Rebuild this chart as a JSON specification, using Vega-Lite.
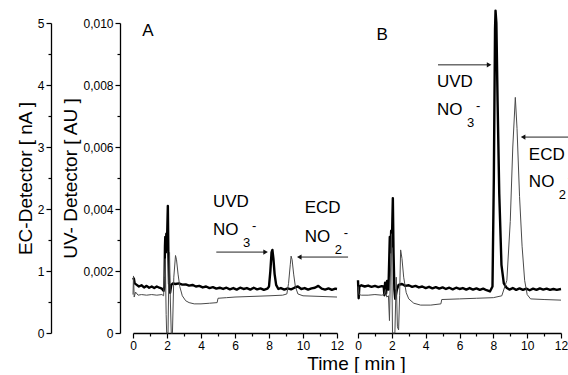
{
  "$schema": "https://vega.github.io/schema/vega-lite/v6.json",
  "padding": {"left": 16, "top": 9, "right": 0, "bottom": 0},
  "background": "white",
  "config": {
    "view": {"stroke": null},
    "font": "Liberation Sans",
    "axis": {
      "grid": false, "domainColor": "black", "domainWidth": 1.3, "tickColor": "black", "tickWidth": 1.2,
      "labelFont": "Liberation Sans", "labelFontSize": 12, "labelColor": "black", "labelPadding": 2, "labelOverlap": false,
      "titleFont": "Liberation Sans", "titleFontSize": 19, "titleFontWeight": "normal", "titleColor": "black"
    }
  },
  "datasets": {
    "uvA": [
      {"t":0,"v":0.00172},{"t":0.05,"v":0.00176},{"t":0.1,"v":0.0016},{"t":0.2,"v":0.00156},{"t":0.35,"v":0.0015},{"t":0.5,"v":0.00154},{"t":0.65,"v":0.00147},{"t":0.8,"v":0.00152},{"t":0.95,"v":0.00146},{"t":1.1,"v":0.0015},{"t":1.25,"v":0.00145},{"t":1.4,"v":0.0015},{"t":1.55,"v":0.00146},{"t":1.7,"v":0.00143},{"t":1.8,"v":0.00136},{"t":1.85,"v":0.0015},{"t":1.88,"v":0.0028},{"t":1.9,"v":0.0031},{"t":1.93,"v":0.0026},{"t":1.96,"v":0.0032},{"t":1.99,"v":0.0027},{"t":2.02,"v":0.0034},{"t":2.05,"v":0.0041},{"t":2.08,"v":0.0026},{"t":2.12,"v":0.0016},{"t":2.18,"v":0.0013},{"t":2.25,"v":0.00155},{"t":2.35,"v":0.0016},{"t":2.5,"v":0.00158},{"t":2.7,"v":0.0016},{"t":2.9,"v":0.00156},{"t":3.1,"v":0.00157},{"t":3.3,"v":0.00153},{"t":3.5,"v":0.00155},{"t":3.7,"v":0.0015},{"t":3.9,"v":0.00152},{"t":4.1,"v":0.00147},{"t":4.3,"v":0.0015},{"t":4.5,"v":0.00145},{"t":4.7,"v":0.00148},{"t":4.9,"v":0.00143},{"t":5.1,"v":0.00146},{"t":5.3,"v":0.00142},{"t":5.5,"v":0.00146},{"t":5.7,"v":0.00141},{"t":5.9,"v":0.00145},{"t":6.1,"v":0.0014},{"t":6.3,"v":0.00146},{"t":6.5,"v":0.00142},{"t":6.7,"v":0.00145},{"t":6.9,"v":0.0014},{"t":7.1,"v":0.00146},{"t":7.3,"v":0.00141},{"t":7.5,"v":0.00144},{"t":7.7,"v":0.00139},{"t":7.9,"v":0.00143},{"t":8.0,"v":0.0015},{"t":8.08,"v":0.002},{"t":8.15,"v":0.0026},{"t":8.2,"v":0.00268},{"t":8.26,"v":0.0024},{"t":8.33,"v":0.0019},{"t":8.42,"v":0.00155},{"t":8.55,"v":0.00142},{"t":8.7,"v":0.00145},{"t":8.9,"v":0.0014},{"t":9.1,"v":0.00144},{"t":9.3,"v":0.00141},{"t":9.5,"v":0.00146},{"t":9.7,"v":0.0015},{"t":9.9,"v":0.00142},{"t":10.1,"v":0.00145},{"t":10.3,"v":0.0014},{"t":10.5,"v":0.00144},{"t":10.7,"v":0.00146},{"t":10.9,"v":0.00152},{"t":11.1,"v":0.00143},{"t":11.3,"v":0.0014},{"t":11.5,"v":0.00144},{"t":11.7,"v":0.00139},{"t":11.9,"v":0.00143},{"t":12,"v":0.00142}
    ],
    "ecA": [
      {"t":0,"v":0.62},{"t":0.03,"v":0.92},{"t":0.07,"v":0.58},{"t":0.15,"v":0.66},{"t":0.3,"v":0.61},{"t":0.5,"v":0.62},{"t":0.8,"v":0.61},{"t":1.1,"v":0.62},{"t":1.4,"v":0.61},{"t":1.7,"v":0.62},{"t":1.8,"v":0.6},{"t":1.85,"v":0.9},{"t":1.9,"v":1.2},{"t":1.95,"v":0.3},{"t":1.98,"v":0},{"t":2.06,"v":0},{"t":2.1,"v":0.8},{"t":2.15,"v":1.3},{"t":2.2,"v":0.5},{"t":2.25,"v":0},{"t":2.32,"v":0},{"t":2.4,"v":0.9},{"t":2.5,"v":1.25},{"t":2.56,"v":1.18},{"t":2.65,"v":0.95},{"t":2.75,"v":0.75},{"t":2.9,"v":0.6},{"t":3.1,"v":0.52},{"t":3.3,"v":0.49},{"t":3.6,"v":0.47},{"t":4.0,"v":0.47},{"t":4.5,"v":0.48},{"t":4.95,"v":0.49},{"t":5.0,"v":0.56},{"t":5.5,"v":0.57},{"t":6,"v":0.58},{"t":7,"v":0.59},{"t":8,"v":0.6},{"t":8.8,"v":0.61},{"t":9.05,"v":0.63},{"t":9.15,"v":0.8},{"t":9.25,"v":1.1},{"t":9.3,"v":1.24},{"t":9.36,"v":1.18},{"t":9.45,"v":0.95},{"t":9.55,"v":0.75},{"t":9.7,"v":0.63},{"t":10,"v":0.6},{"t":11,"v":0.59},{"t":12,"v":0.58}
    ],
    "uvB": [
      {"t":0,"v":0.0017},{"t":0.04,"v":0.00112},{"t":0.08,"v":0.0015},{"t":0.2,"v":0.00154},{"t":0.4,"v":0.0015},{"t":0.6,"v":0.00153},{"t":0.8,"v":0.00149},{"t":1.0,"v":0.00152},{"t":1.2,"v":0.00148},{"t":1.4,"v":0.00151},{"t":1.52,"v":0.0015},{"t":1.56,"v":0.00122},{"t":1.6,"v":0.00162},{"t":1.66,"v":0.00128},{"t":1.72,"v":0.00168},{"t":1.8,"v":0.0014},{"t":1.88,"v":0.0031},{"t":1.92,"v":0.0026},{"t":1.96,"v":0.0033},{"t":2.0,"v":0.0028},{"t":2.03,"v":0.0036},{"t":2.06,"v":0.00435},{"t":2.1,"v":0.0026},{"t":2.15,"v":0.0014},{"t":2.2,"v":0.0011},{"t":2.3,"v":0.0014},{"t":2.4,"v":0.00155},{"t":2.6,"v":0.00158},{"t":2.8,"v":0.00152},{"t":3.0,"v":0.00154},{"t":3.2,"v":0.00149},{"t":3.4,"v":0.00152},{"t":3.6,"v":0.00147},{"t":3.8,"v":0.0015},{"t":4.0,"v":0.00145},{"t":4.2,"v":0.00149},{"t":4.4,"v":0.00144},{"t":4.6,"v":0.00148},{"t":4.8,"v":0.00143},{"t":5.0,"v":0.00147},{"t":5.2,"v":0.00142},{"t":5.4,"v":0.00146},{"t":5.6,"v":0.00141},{"t":5.8,"v":0.00146},{"t":6.0,"v":0.00142},{"t":6.2,"v":0.00145},{"t":6.4,"v":0.0014},{"t":6.6,"v":0.00145},{"t":6.8,"v":0.0014},{"t":7.0,"v":0.00144},{"t":7.2,"v":0.00139},{"t":7.4,"v":0.00143},{"t":7.6,"v":0.00138},{"t":7.8,"v":0.00134},{"t":7.95,"v":0.0015},{"t":8.03,"v":0.005},{"t":8.1,"v":0.0098},{"t":8.13,"v":0.0104},{"t":8.18,"v":0.01},{"t":8.25,"v":0.0075},{"t":8.35,"v":0.0045},{"t":8.48,"v":0.0022},{"t":8.62,"v":0.0016},{"t":8.78,"v":0.00146},{"t":8.95,"v":0.0014},{"t":9.15,"v":0.00145},{"t":9.35,"v":0.00139},{"t":9.55,"v":0.00144},{"t":9.75,"v":0.00139},{"t":9.95,"v":0.00143},{"t":10.15,"v":0.00138},{"t":10.35,"v":0.00143},{"t":10.55,"v":0.00139},{"t":10.75,"v":0.00144},{"t":10.95,"v":0.0014},{"t":11.15,"v":0.00143},{"t":11.35,"v":0.00139},{"t":11.55,"v":0.00142},{"t":11.75,"v":0.00139},{"t":12,"v":0.00142}
    ],
    "ecB": [
      {"t":0,"v":0.75},{"t":0.06,"v":0.62},{"t":0.2,"v":0.61},{"t":0.6,"v":0.61},{"t":1.0,"v":0.62},{"t":1.4,"v":0.61},{"t":1.55,"v":0.62},{"t":1.62,"v":0.7},{"t":1.7,"v":0.58},{"t":1.8,"v":0.6},{"t":1.86,"v":0.2},{"t":1.92,"v":1.0},{"t":1.98,"v":1.6},{"t":2.04,"v":0},{"t":2.18,"v":0},{"t":2.26,"v":0.9},{"t":2.33,"v":0.1},{"t":2.4,"v":0.05},{"t":2.46,"v":0.6},{"t":2.52,"v":1.34},{"t":2.6,"v":1.2},{"t":2.7,"v":0.9},{"t":2.85,"v":0.65},{"t":3.0,"v":0.55},{"t":3.3,"v":0.48},{"t":3.7,"v":0.45},{"t":4.3,"v":0.45},{"t":4.9,"v":0.47},{"t":4.95,"v":0.54},{"t":6,"v":0.55},{"t":7,"v":0.56},{"t":8,"v":0.57},{"t":8.5,"v":0.6},{"t":8.8,"v":0.85},{"t":9.0,"v":1.8},{"t":9.15,"v":3.0},{"t":9.3,"v":3.8},{"t":9.4,"v":3.3},{"t":9.55,"v":2.2},{"t":9.7,"v":1.4},{"t":9.85,"v":0.85},{"t":10.0,"v":0.62},{"t":10.2,"v":0.55},{"t":11,"v":0.54},{"t":12,"v":0.53}
    ],
    "labels": [
      {"panel":"A","t":0.55,"v":0.00974,"text":"A"},
      {"panel":"A","t":4.7,"v":0.00423,"text":"UVD"},
      {"panel":"A","t":10.1,"v":0.00403,"text":"ECD"},
      {"panel":"B","t":1.1,"v":0.00961,"text":"B"},
      {"panel":"B","t":4.67,"v":0.0081,"text":"UVD"},
      {"panel":"B","t":10.1,"v":0.00574,"text":"ECD"}
    ],
    "chem": [
      {"panel":"A","t":4.7,"v":0.00332,"base":"NO","sub":"3","sup":"-"},
      {"panel":"A","t":10.1,"v":0.0031,"base":"NO","sub":"2","sup":"-"},
      {"panel":"B","t":4.67,"v":0.0072,"base":"NO","sub":"3","sup":"-"},
      {"panel":"B","t":10.1,"v":0.00487,"base":"NO","sub":"2","sup":"-"}
    ],
    "arrows": [
      {"panel":"A","t1":4.9,"t2":7.8,"v":0.00261,"head":7.8,"dir":"right"},
      {"panel":"A","t1":9.78,"t2":12.65,"v":0.00245,"head":9.78,"dir":"left"},
      {"panel":"B","t1":4.73,"t2":7.75,"v":0.00865,"head":7.75,"dir":"right"},
      {"panel":"B","t1":9.76,"t2":12.6,"v":0.00632,"head":9.76,"dir":"left"}
    ]
  },
  "bounds": "flush",
  "spacing": 21,
  "hconcat": [
    {
      "width": 204, "height": 310,
      "layer": [
        {
          "layer": [
            {
              "data": {"name": "uvA"},
              "mark": {"type": "line", "color": "black", "strokeWidth": 2.4, "strokeJoin": "round"},
              "encoding": {
                "x": {"field": "t", "type": "quantitative", "scale": {"domain": [0, 12], "nice": false}, "title": "Time [ min ]",
                  "axis": {"title": "Time [ min ]", "titleX": 223, "titleY": 30, "titleAlign": "center", "titleBaseline": "middle", "titleAnchor": null, "labelOverlap": false, "labelFlush": false, "tickCount": 40,
                    "values": [0,1,2,3,4,5,6,7,8,9,10,11,12], "labelExpr": "datum.value % 2 == 0 ? format(datum.value, 'd') : ''", "tickSize": {"condition": {"test": "datum.value % 2 != 0", "value": 3}, "value": 5}}},
                "y": {"field": "v", "type": "quantitative", "scale": {"domain": [0, 0.01], "nice": false}, "title": "UV- Detector [ AU ]",
                  "axis": {"title": "UV- Detector [ AU ]", "offset": 13, "titlePadding": 2, "labelOverlap": false, "tickCount": 40,
                    "values": [0,0.001,0.002,0.003,0.004,0.005,0.006,0.007,0.008,0.009,0.01],
                    "labelExpr": "datum.value == 0 ? '0' : (round(datum.value*1000) % 2 == 0 ? replace(format(datum.value, '.3f'), '.', ',') : '')",
                    "tickSize": {"condition": {"test": "round(datum.value*1000) % 2 != 0", "value": 3}, "value": 5}}}
              }
            },
            {
              "data": {"name": "arrows"},
              "transform": [{"filter": "datum.panel == 'A'"}],
              "mark": {"type": "rule", "color": "#222", "strokeWidth": 1},
              "encoding": {
                "x": {"field": "t1", "type": "quantitative", "scale": {"domain": [0, 12], "nice": false}, "title": "Time [ min ]"},
                "x2": {"field": "t2"},
                "y": {"field": "v", "type": "quantitative", "scale": {"domain": [0, 0.01], "nice": false}, "title": "UV- Detector [ AU ]"}
              }
            },
            {
              "data": {"name": "arrows"},
              "transform": [{"filter": "datum.panel == 'A'"}],
              "mark": {"type": "point", "filled": true, "color": "#111", "size": 28, "opacity": 1},
              "encoding": {
                "x": {"field": "head", "type": "quantitative", "scale": {"domain": [0, 12], "nice": false}, "title": "Time [ min ]"},
                "y": {"field": "v", "type": "quantitative", "scale": {"domain": [0, 0.01], "nice": false}, "title": "UV- Detector [ AU ]"},
                "shape": {"field": "dir", "type": "nominal", "scale": {"domain": ["right", "left"], "range": ["triangle-right", "triangle-left"]}, "legend": null}
              }
            },
            {
              "data": {"name": "labels"},
              "transform": [{"filter": "datum.panel == 'A'"}],
              "mark": {"type": "text", "align": "left", "baseline": "middle", "fontSize": 17, "color": "black", "font": "Liberation Sans"},
              "encoding": {
                "x": {"field": "t", "type": "quantitative", "scale": {"domain": [0, 12], "nice": false}, "title": "Time [ min ]"},
                "y": {"field": "v", "type": "quantitative", "scale": {"domain": [0, 0.01], "nice": false}, "title": "UV- Detector [ AU ]"},
                "text": {"field": "text"}
              }
            },
            {
              "data": {"name": "chem"},
              "transform": [{"filter": "datum.panel == 'A'"}],
              "mark": {"type": "text", "align": "left", "baseline": "middle", "fontSize": 17, "color": "black", "font": "Liberation Sans"},
              "encoding": {
                "x": {"field": "t", "type": "quantitative", "scale": {"domain": [0, 12], "nice": false}, "title": "Time [ min ]"},
                "y": {"field": "v", "type": "quantitative", "scale": {"domain": [0, 0.01], "nice": false}, "title": "UV- Detector [ AU ]"},
                "text": {"field": "base"}
              }
            },
            {
              "data": {"name": "chem"},
              "transform": [{"filter": "datum.panel == 'A'"}],
              "mark": {"type": "text", "align": "left", "baseline": "middle", "fontSize": 13, "color": "black", "font": "Liberation Sans", "dx": 30, "dy": 13},
              "encoding": {
                "x": {"field": "t", "type": "quantitative", "scale": {"domain": [0, 12], "nice": false}, "title": "Time [ min ]"},
                "y": {"field": "v", "type": "quantitative", "scale": {"domain": [0, 0.01], "nice": false}, "title": "UV- Detector [ AU ]"},
                "text": {"field": "sub"}
              }
            },
            {
              "data": {"name": "chem"},
              "transform": [{"filter": "datum.panel == 'A'"}],
              "mark": {"type": "text", "align": "left", "baseline": "middle", "fontSize": 13, "color": "black", "font": "Liberation Sans", "dx": 39, "dy": -4},
              "encoding": {
                "x": {"field": "t", "type": "quantitative", "scale": {"domain": [0, 12], "nice": false}, "title": "Time [ min ]"},
                "y": {"field": "v", "type": "quantitative", "scale": {"domain": [0, 0.01], "nice": false}, "title": "UV- Detector [ AU ]"},
                "text": {"field": "sup"}
              }
            }
          ]
        },
        {
          "data": {"name": "ecA"},
          "mark": {"type": "line", "color": "#4a4a4a", "strokeWidth": 1},
          "encoding": {
            "x": {"field": "t", "type": "quantitative", "scale": {"domain": [0, 12], "nice": false}, "title": "Time [ min ]"},
            "y": {"field": "v", "type": "quantitative", "scale": {"domain": [0, 5], "nice": false},
              "axis": {"title": "EC-Detector [ nA ]", "offset": 82, "titlePadding": 2, "orient": "left", "labelOverlap": false, "tickCount": 40,
                "values": [0,0.5,1,1.5,2,2.5,3,3.5,4,4.5,5],
                "labelExpr": "datum.value % 1 == 0 ? format(datum.value, 'd') : ''",
                "tickSize": {"condition": {"test": "datum.value % 1 != 0", "value": 3}, "value": 5}}}
          }
        }
      ],
      "resolve": {"scale": {"y": "independent"}, "axis": {"y": "independent"}}
    },
    {
      "width": 203, "height": 310,
      "layer": [
        {
          "layer": [
            {
              "data": {"name": "uvB"},
              "mark": {"type": "line", "color": "black", "strokeWidth": 2.4, "strokeJoin": "round"},
              "encoding": {
                "x": {"field": "t", "type": "quantitative", "scale": {"domain": [0, 12], "nice": false}, "title": null,
                  "axis": {"title": null, "labelOverlap": false, "labelFlush": false, "tickCount": 40, "values": [0,1,2,3,4,5,6,7,8,9,10,11,12], "labelExpr": "datum.value % 2 == 0 ? format(datum.value, 'd') : ''", "tickSize": {"condition": {"test": "datum.value % 2 != 0", "value": 3}, "value": 5}}},
                "y": {"field": "v", "type": "quantitative", "scale": {"domain": [0, 0.01], "nice": false}, "axis": null}
              }
            },
            {
              "data": {"name": "arrows"},
              "transform": [{"filter": "datum.panel == 'B'"}],
              "mark": {"type": "rule", "color": "#222", "strokeWidth": 1},
              "encoding": {
                "x": {"field": "t1", "type": "quantitative", "scale": {"domain": [0, 12], "nice": false}, "title": null},
                "x2": {"field": "t2"},
                "y": {"field": "v", "type": "quantitative", "scale": {"domain": [0, 0.01], "nice": false}, "axis": null}
              }
            },
            {
              "data": {"name": "arrows"},
              "transform": [{"filter": "datum.panel == 'B'"}],
              "mark": {"type": "point", "filled": true, "color": "#111", "size": 28, "opacity": 1},
              "encoding": {
                "x": {"field": "head", "type": "quantitative", "scale": {"domain": [0, 12], "nice": false}, "title": null},
                "y": {"field": "v", "type": "quantitative", "scale": {"domain": [0, 0.01], "nice": false}, "axis": null},
                "shape": {"field": "dir", "type": "nominal", "scale": {"domain": ["right", "left"], "range": ["triangle-right", "triangle-left"]}, "legend": null}
              }
            },
            {
              "data": {"name": "labels"},
              "transform": [{"filter": "datum.panel == 'B'"}],
              "mark": {"type": "text", "align": "left", "baseline": "middle", "fontSize": 17, "color": "black", "font": "Liberation Sans"},
              "encoding": {
                "x": {"field": "t", "type": "quantitative", "scale": {"domain": [0, 12], "nice": false}, "title": null},
                "y": {"field": "v", "type": "quantitative", "scale": {"domain": [0, 0.01], "nice": false}, "axis": null},
                "text": {"field": "text"}
              }
            },
            {
              "data": {"name": "chem"},
              "transform": [{"filter": "datum.panel == 'B'"}],
              "mark": {"type": "text", "align": "left", "baseline": "middle", "fontSize": 17, "color": "black", "font": "Liberation Sans"},
              "encoding": {
                "x": {"field": "t", "type": "quantitative", "scale": {"domain": [0, 12], "nice": false}, "title": null},
                "y": {"field": "v", "type": "quantitative", "scale": {"domain": [0, 0.01], "nice": false}, "axis": null},
                "text": {"field": "base"}
              }
            },
            {
              "data": {"name": "chem"},
              "transform": [{"filter": "datum.panel == 'B'"}],
              "mark": {"type": "text", "align": "left", "baseline": "middle", "fontSize": 13, "color": "black", "font": "Liberation Sans", "dx": 30, "dy": 13},
              "encoding": {
                "x": {"field": "t", "type": "quantitative", "scale": {"domain": [0, 12], "nice": false}, "title": null},
                "y": {"field": "v", "type": "quantitative", "scale": {"domain": [0, 0.01], "nice": false}, "axis": null},
                "text": {"field": "sub"}
              }
            },
            {
              "data": {"name": "chem"},
              "transform": [{"filter": "datum.panel == 'B'"}],
              "mark": {"type": "text", "align": "left", "baseline": "middle", "fontSize": 13, "color": "black", "font": "Liberation Sans", "dx": 39, "dy": -4},
              "encoding": {
                "x": {"field": "t", "type": "quantitative", "scale": {"domain": [0, 12], "nice": false}, "title": null},
                "y": {"field": "v", "type": "quantitative", "scale": {"domain": [0, 0.01], "nice": false}, "axis": null},
                "text": {"field": "sup"}
              }
            }
          ]
        },
        {
          "data": {"name": "ecB"},
          "mark": {"type": "line", "color": "#4a4a4a", "strokeWidth": 1},
          "encoding": {
            "x": {"field": "t", "type": "quantitative", "scale": {"domain": [0, 12], "nice": false}, "title": null},
            "y": {"field": "v", "type": "quantitative", "scale": {"domain": [0, 5], "nice": false}, "axis": null}
          }
        }
      ],
      "resolve": {"scale": {"y": "independent"}}
    }
  ]
}
